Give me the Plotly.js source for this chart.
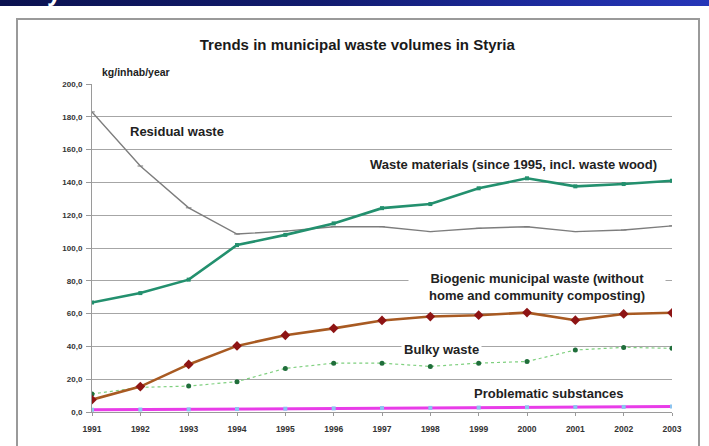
<!DOCTYPE html>
<html>
<head>
<meta charset="utf-8">
<script src="https://cdn.plot.ly/plotly-3.0.1.min.js"></script>
<style>
  html, body { margin: 0; padding: 0; background: #ffffff; }
  body { width: 709px; height: 446px; overflow: hidden; position: relative; }
  #band {
    position: absolute; left: 0; top: 0; width: 709px; height: 6px; overflow: hidden;
    background: linear-gradient(90deg, #0b1250 0%, #111b6e 45%, #1c2a9c 75%, #2636b8 100%);
  }
  #band span {
    position: absolute; left: 47px; top: -21px;
    font: bold 26px "Liberation Sans", Arial, sans-serif; line-height: 26px; color: #ffffff;
  }
  #chart { position: absolute; left: 0; top: 0; width: 709px; height: 446px; }
</style>
</head>
<body>
<div id="band"><span>y</span></div>
<div id="chart"></div>
<script>
// Municipal waste per inhabitant in Styria, kg/inhab/year
const years = [1991, 1992, 1993, 1994, 1995, 1996, 1997, 1998, 1999, 2000, 2001, 2002, 2003];
const residualWaste   = [183.0, 150.0, 124.5, 108.5, 110.3, 113.0, 113.0, 110.0, 112.0, 113.0, 110.0, 111.0, 113.5];
const wasteMaterials  = [66.8, 72.5, 80.7, 101.8, 108.0, 115.0, 124.3, 126.8, 136.4, 142.5, 137.6, 139.0, 141.0];
const biogenicWaste   = [7.5, 15.5, 29.0, 40.3, 46.8, 51.0, 55.8, 58.2, 59.0, 60.6, 56.0, 59.8, 60.5];
const bulkyWaste      = [11.0, 15.0, 15.8, 18.5, 26.6, 29.8, 29.8, 27.8, 29.8, 30.8, 37.8, 39.4, 38.8];
const problematic     = [1.3, 1.5, 1.6, 1.8, 2.0, 2.2, 2.4, 2.5, 2.7, 2.9, 3.0, 3.1, 3.3];

const chartTitle = "Trends in municipal waste volumes in Styria";
const unitLabel = "kg/inhab/year";
const labelResidual = "Residual waste";
const labelMaterials = "Waste materials (since 1995, incl. waste wood)";
const labelBiogenic = "Biogenic municipal waste (without<br>home and community composting)";
const labelBulky = "Bulky waste";
const labelProblematic = "Problematic substances";

const FONT = '"Liberation Sans", Arial, sans-serif';

const traces = [
  {
    x: years, y: bulkyWaste, mode: 'lines+markers', name: labelBulky,
    line: { color: '#7fd07f', width: 1.2, dash: 'dot' },
    marker: { color: '#1f6e3a', size: 5, symbol: 'circle' }
  },
  {
    x: years, y: problematic, mode: 'lines+markers', name: labelProblematic,
    line: { color: '#e83ce8', width: 3 },
    marker: { color: '#8cc4f0', size: 4, symbol: 'square' }
  },
  {
    x: years, y: residualWaste, mode: 'lines+markers', name: labelResidual,
    line: { color: '#7d7d7d', width: 1.4 },
    marker: { color: '#7d7d7d', size: 4, symbol: 'line-ew-open', line: { color: '#7d7d7d', width: 1 } }
  },
  {
    x: years, y: wasteMaterials, mode: 'lines+markers', name: labelMaterials,
    line: { color: '#23906e', width: 2.6 },
    marker: { color: '#23906e', size: 4, symbol: 'square' }
  },
  {
    x: years, y: biogenicWaste, mode: 'lines+markers', name: labelBiogenic,
    line: { color: '#a85a22', width: 2.6 },
    marker: { color: '#8e1414', size: 7.5, symbol: 'diamond' }
  }
];

const labelFont = { family: FONT, size: 13, color: '#222222', weight: 'bold' };

const layout = {
  width: 709, height: 446,
  margin: { l: 92, r: 37, t: 84, b: 34, pad: 0 },
  paper_bgcolor: 'rgba(0,0,0,0)',
  plot_bgcolor: 'rgba(0,0,0,0)',
  showlegend: false,
  separators: ',.',
  title: {
    text: chartTitle,
    font: { family: FONT, size: 15, color: '#1a1a1a', weight: 'bold' },
    xref: 'container', x: 0.504, xanchor: 'center',
    yref: 'container', y: 1 - 45 / 446, yanchor: 'middle'
  },
  xaxis: {
    type: 'linear', range: [1991, 2003],
    tickvals: years, ticktext: years.map(String),
    showgrid: false, zeroline: false,
    showline: true, linecolor: '#9a9a9a', linewidth: 1,
    ticks: 'outside', ticklen: 3, tickcolor: '#9a9a9a',
    ticklabelstandoff: 6,
    tickfont: { family: FONT, size: 8.5, color: '#333333', weight: 'bold' }
  },
  yaxis: {
    range: [0, 200], dtick: 20, tick0: 0, tickformat: '.1f',
    showgrid: true, gridcolor: '#a6a6a6', gridwidth: 1,
    zeroline: false,
    showline: true, linecolor: '#9a9a9a', linewidth: 1,
    ticks: 'outside', ticklen: 5, tickcolor: '#9a9a9a',
    ticklabelstandoff: 2,
    tickfont: { family: FONT, size: 8, color: '#333333', weight: 'bold' }
  },
  shapes: [
    {
      type: 'rect', xref: 'paper', yref: 'paper',
      x0: -75 / 580, x1: 607 / 580, y0: -40 / 328, y1: 393 / 328,
      line: { color: '#9a9a9a', width: 2 }, fillcolor: 'rgba(0,0,0,0)', layer: 'below'
    }
  ],
  annotations: [
    {
      text: unitLabel, xref: 'paper', yref: 'paper',
      x: 8 / 580, y: 340 / 328, xanchor: 'left', yanchor: 'middle', showarrow: false,
      font: { family: FONT, size: 10.5, color: '#222222', weight: 'bold' }
    },
    {
      text: labelResidual, x: 1991.75, y: 171.3, xanchor: 'left', yanchor: 'middle',
      showarrow: false, font: labelFont
    },
    {
      text: labelMaterials, x: 1996.72, y: 151.2, xanchor: 'left', yanchor: 'middle',
      showarrow: false, font: labelFont
    },
    {
      text: labelBiogenic, x: 2000.21, y: 76.2, xanchor: 'center', yanchor: 'middle',
      align: 'center', width: 252, showarrow: false, font: labelFont,
      bgcolor: '#ffffff', borderpad: 2
    },
    {
      text: labelBulky, x: 1997.40, y: 38.4, xanchor: 'left', yanchor: 'middle',
      showarrow: false, font: labelFont, bgcolor: '#ffffff', borderpad: 2
    },
    {
      text: labelProblematic, x: 1998.86, y: 11.0, xanchor: 'left', yanchor: 'middle',
      showarrow: false, font: labelFont
    }
  ]
};

Plotly.newPlot('chart', traces, layout, { displayModeBar: false, staticPlot: true });
</script>
</body>
</html>
